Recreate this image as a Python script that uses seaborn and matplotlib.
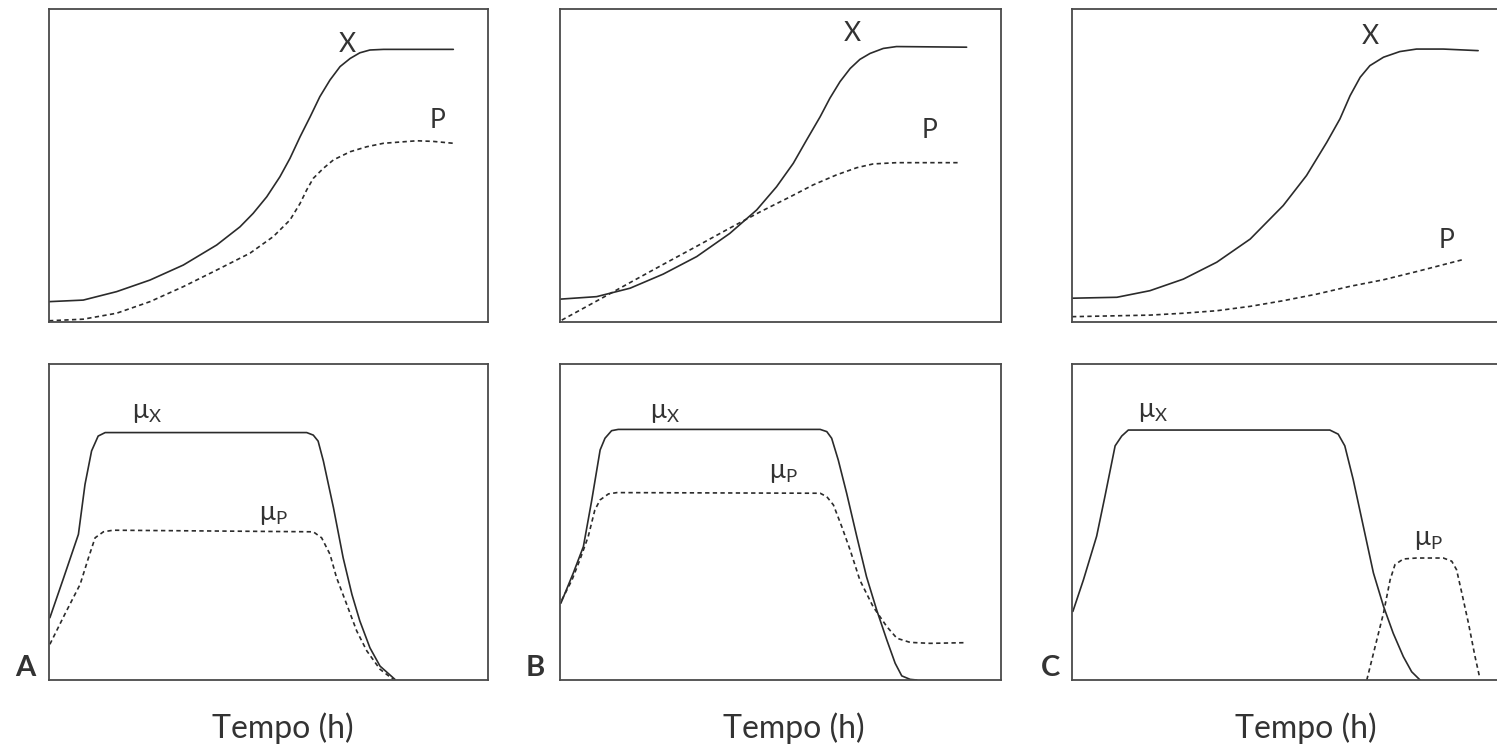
import matplotlib
matplotlib.use("Agg")
import matplotlib.pyplot as plt
import seaborn as sns
import pandas as pd

sns.set_theme(style="white")
plt.rcParams['font.family'] = ['Lato', 'DejaVu Sans']
plt.rcParams['mathtext.fontset'] = 'custom'
plt.rcParams['mathtext.rm'] = 'Lato'
plt.rcParams['mathtext.it'] = 'Lato'

# ---------------- data (time and value on 0-100 relative scales) ----------------
# Panel A - top (biomass X, product P)
a_x_t = [0, 7.8, 15.4, 23.0, 30.6, 38.2, 43.5, 46.5, 49.6, 52.6, 54.9, 57.2, 59.5, 61.7, 64.0, 66.3, 68.6, 70.8, 73.1, 76.2, 92.1]
a_x_v = [6.5, 7.0, 9.7, 13.4, 18.2, 24.6, 30.4, 34.7, 40.0, 46.4, 52.3, 59.2, 65.6, 72.0, 77.3, 81.6, 84.2, 86.0, 86.9, 87.1, 87.1]
a_p_t = [0, 7.8, 15.4, 23.0, 30.6, 38.2, 45.8, 51.1, 54.9, 57.2, 58.7, 60.2, 62.5, 64.8, 68.6, 72.4, 76.2, 83.8, 87.5, 92.1]
a_p_v = [0.4, 0.9, 2.8, 6.5, 11.3, 16.6, 22.0, 27.3, 32.6, 37.9, 42.2, 45.9, 49.1, 51.8, 54.4, 56.0, 57.1, 57.9, 57.7, 57.1]
# Panel A - bottom (specific rates)
a_mx_t = [0.2, 3.3, 6.7, 8.2, 9.7, 11.2, 12.8, 58.7, 60.2, 61.3, 62.5, 64.8, 67.0, 69.0, 70.8, 73.1, 75.4, 78.8]
a_mx_v = [19.7, 32.2, 46.1, 61.9, 72.5, 77.2, 78.3, 78.3, 77.5, 75.6, 69.3, 54.5, 38.7, 27.1, 18.7, 10.2, 4.4, 0.2]
a_mp_t = [0.2, 3.6, 7.1, 9.0, 10.5, 12.4, 14.6, 60.2, 62.1, 64.0, 65.5, 67.8, 70.1, 72.4, 75.4, 78.4]
a_mp_v = [11.3, 20.8, 30.3, 38.7, 45.0, 46.9, 47.4, 46.9, 45.0, 39.8, 32.4, 24.0, 15.5, 9.2, 3.4, 0.2]

# Panel B - top
b_x_t = [0, 8.3, 15.9, 23.4, 31.0, 38.5, 44.6, 49.1, 52.9, 55.9, 59.0, 61.2, 63.5, 65.8, 68.0, 70.3, 73.3, 76.3, 92.2]
b_x_v = [7.3, 8.1, 10.8, 15.3, 20.9, 28.3, 35.8, 43.2, 50.7, 58.1, 65.6, 71.5, 76.8, 81.0, 83.9, 85.8, 87.4, 88.0, 87.8]
b_p_t = [0.4, 8.3, 15.9, 23.4, 31.0, 38.5, 45.4, 52.2, 57.4, 62.7, 67.3, 71.0, 76.3, 90.7]
b_p_v = [0.6, 6.7, 12.6, 18.4, 24.2, 30.0, 35.2, 40.0, 43.8, 47.0, 49.3, 50.5, 50.9, 50.9]
# Panel B - bottom
b_mx_t = [0.2, 3.0, 5.3, 7.2, 9.1, 10.2, 11.7, 13.2, 59.0, 60.5, 61.6, 63.1, 65.0, 67.3, 69.5, 71.8, 74.1, 76.0, 77.5, 79.4, 80.9]
b_mx_v = [24.3, 33.8, 42.2, 56.9, 72.8, 76.5, 78.9, 79.3, 79.3, 78.6, 76.5, 69.6, 59.1, 45.4, 32.7, 22.2, 12.7, 5.3, 1.3, 0.2, 0.0]
b_mp_t = [0.4, 2.7, 4.5, 6.4, 7.9, 9.1, 11.0, 12.9, 59.0, 60.5, 62.0, 63.9, 65.8, 68.0, 71.0, 74.1, 76.4, 79.4, 83.9, 91.5]
b_mp_v = [25.3, 31.6, 38.0, 45.4, 53.8, 57.0, 58.9, 59.3, 59.1, 58.0, 55.4, 48.5, 41.1, 31.6, 23.2, 16.9, 13.2, 11.9, 11.6, 11.8]

# Panel C - top
c_x_t = [0, 10.2, 17.7, 25.3, 32.9, 40.5, 48.0, 53.3, 57.9, 60.9, 63.2, 65.5, 67.7, 70.8, 74.5, 78.3, 84.4, 92.3]
c_x_v = [7.6, 7.9, 10.0, 13.7, 19.1, 26.5, 37.2, 46.8, 57.4, 64.9, 72.3, 78.2, 81.9, 84.6, 86.4, 87.2, 87.2, 86.7]
c_p_t = [0, 17.7, 25.3, 32.9, 40.5, 48.0, 55.6, 63.2, 70.8, 78.3, 89.3]
c_p_v = [1.7, 2.2, 2.8, 3.6, 5.0, 6.8, 8.9, 11.4, 13.5, 16.1, 20.1]
# Panel C - bottom
c_mx_t = [0.2, 2.6, 5.6, 7.5, 9.8, 11.3, 12.8, 58.6, 60.5, 62.0, 63.9, 66.2, 68.5, 70.8, 73.0, 75.3, 77.2, 79.1]
c_mx_v = [21.7, 31.7, 45.5, 58.2, 74.1, 77.2, 79.1, 79.1, 77.8, 74.1, 63.5, 48.7, 33.9, 23.3, 14.8, 7.4, 2.6, 0.0]
c_mp_t = [67.0, 68.9, 70.8, 72.3, 73.4, 75.3, 78.3, 84.4, 86.3, 87.4, 88.6, 90.1, 91.6, 92.7]
c_mp_v = [0.0, 10.6, 21.2, 31.7, 36.5, 38.3, 38.6, 38.6, 37.6, 34.9, 27.5, 18.0, 7.4, 0.5]

panel_letters = ["A", "B", "C"]
x_axis_label = "Tempo (h)"
top_labels = ["X", "P"]
bottom_labels = [r"$\mathregular{\mu_X}$", r"$\mathregular{\mu_P}$"]

# label anchor positions (relative scale)
top_label_pos = [[(67.9, 88.5), (88.4, 64.5)],
                 [(66.2, 92.3), (83.9, 61.3)],
                 [(67.7, 91.1), (85.2, 25.9)]]
bot_label_pos = [[(22.3, 84.5), (51.0, 52.5)],
                 [(23.8, 84.8), (50.6, 65.8)],
                 [(18.4, 85.1), (80.9, 44.4)]]

tops = [((a_x_t, a_x_v), (a_p_t, a_p_v)),
        ((b_x_t, b_x_v), (b_p_t, b_p_v)),
        ((c_x_t, c_x_v), (c_p_t, c_p_v))]
bots = [((a_mx_t, a_mx_v), (a_mp_t, a_mp_v)),
        ((b_mx_t, b_mx_v), (b_mp_t, b_mp_v)),
        ((c_mx_t, c_mx_v), (c_mp_t, c_mp_v))]

# ---------------- layout ----------------
W, H = 1497, 752
fig = plt.figure(figsize=(W / 100, H / 100), dpi=100)
fig.patch.set_facecolor("white")

lefts = [49, 560, 1072]
widths = [439, 441, 440]
letter_dx = [-24, -25, -21]
top_row = (9, 322)
bot_row = (364, 680)

line_col = "#2b2b2b"
frame_col = "#4a4a4a"
text_col = "#333333"
dash = (0, (2.6, 2.0))


def make_ax(left, width, ytop, ybot):
    ax = fig.add_axes([left / W, (H - ybot) / H, width / W, (ybot - ytop) / H])
    ax.set_xticks([])
    ax.set_yticks([])
    for s in ax.spines.values():
        s.set_color(frame_col)
        s.set_linewidth(1.3)
    return ax


def draw(ax, t, v, dashed):
    df = pd.DataFrame({"t": t, "v": v})
    sns.lineplot(data=df, x="t", y="v", ax=ax, sort=False, estimator=None,
                 color=line_col, linewidth=1.2,
                 linestyle=dash if dashed else "-")
    ax.set_xlabel("")
    ax.set_ylabel("")


for i in range(3):
    ax_t = make_ax(lefts[i], widths[i], *top_row)
    (xt, xv), (pt, pv) = tops[i]
    draw(ax_t, xt, xv, False)
    draw(ax_t, pt, pv, True)
    for lab, (lx, ly) in zip(top_labels, top_label_pos[i]):
        ax_t.text(lx, ly, lab, ha="center", va="center", fontsize=19, color=text_col)
    ax_t.set_xlim(0, 100)
    ax_t.set_ylim(0, 100)
    ax_t.set_xticks([])
    ax_t.set_yticks([])

    ax_b = make_ax(lefts[i], widths[i], *bot_row)
    (mxt, mxv), (mpt, mpv) = bots[i]
    draw(ax_b, mxt, mxv, False)
    draw(ax_b, mpt, mpv, True)
    for lab, (lx, ly) in zip(bottom_labels, bot_label_pos[i]):
        ax_b.text(lx, ly, lab, ha="center", va="center", fontsize=19, color=text_col)
    ax_b.set_xlim(0, 100)
    ax_b.set_ylim(0, 100)
    ax_b.set_xticks([])
    ax_b.set_yticks([])

    # panel letter
    fig.text((lefts[i] + letter_dx[i]) / W, (H - 668) / H, panel_letters[i],
             ha="center", va="center", fontsize=21, fontweight="bold", color=text_col)
    # x label
    fig.text((lefts[i] + 234) / W, (H - 728) / H, x_axis_label, ha="center", va="center",
             fontsize=23, color=text_col)

fig.savefig("out.png", dpi=100, facecolor="white")
